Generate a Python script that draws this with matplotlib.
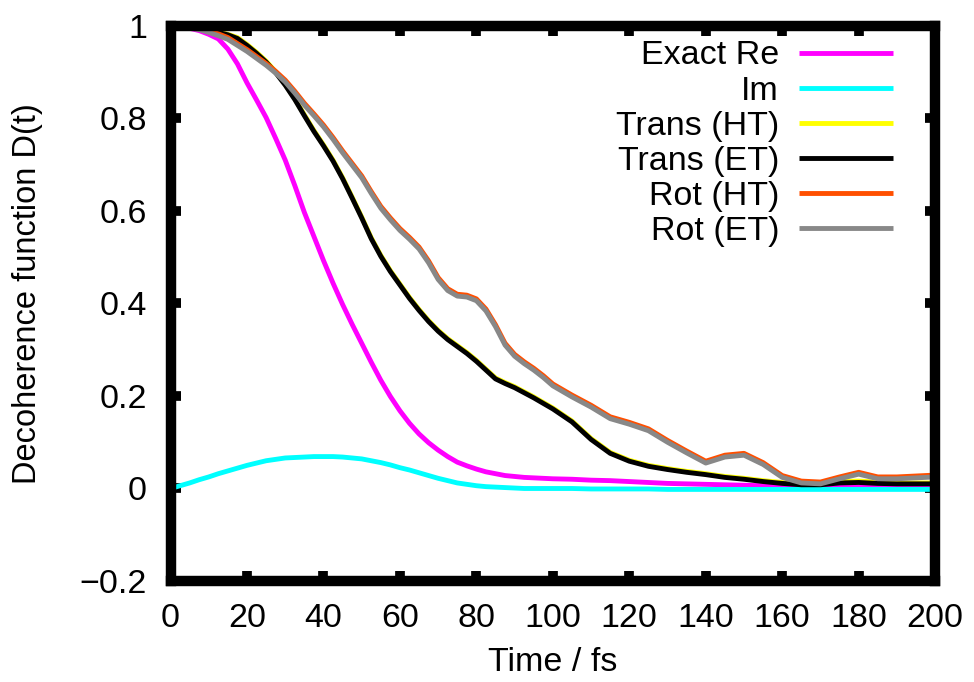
"""
Decoherence function D(t) for the exact result and the four
trajectory-based approximations (gnuplot-style figure).
"""

import matplotlib
matplotlib.use("Agg")
import matplotlib.pyplot as plt

plt.rcParams["font.family"] = ["Liberation Sans", "DejaVu Sans"]

# ── Data (2.5 fs up to 100 fs, 5 fs after) ────
time_fs = [i * 2.5 for i in range(41)] + list(range(105, 205, 5))

exact_re = [1.000, 0.999, 0.995, 0.990, 0.982, 0.972, 0.950, 0.918, 0.877, 0.840,
            0.802, 0.757, 0.710, 0.655, 0.597, 0.545, 0.493, 0.444, 0.398, 0.355,
            0.314, 0.273, 0.234, 0.199, 0.168, 0.141, 0.118, 0.099, 0.083, 0.069,
            0.057, 0.049, 0.042, 0.036, 0.032, 0.028, 0.026, 0.024, 0.023, 0.022,
            0.021,
            0.020, 0.018, 0.017, 0.015, 0.013, 0.011, 0.010, 0.009, 0.008, 0.007,
            0.006, 0.005, 0.004, 0.004, 0.003, 0.003, 0.003, 0.002, 0.002, 0.002]

exact_im = [0.000, 0.006, 0.012, 0.019, 0.025, 0.032, 0.038, 0.044, 0.050, 0.055,
            0.060, 0.063, 0.066, 0.067, 0.068, 0.069, 0.069, 0.069, 0.068, 0.066,
            0.064, 0.060, 0.056, 0.051, 0.045, 0.040, 0.034, 0.028, 0.022, 0.017,
            0.012, 0.009, 0.006, 0.004, 0.003, 0.002, 0.001, 0.000, 0.000, 0.000,
            0.000,
            0.000, -0.001, -0.001, -0.001, -0.001, -0.002, -0.002, -0.002, -0.002, -0.002,
            -0.002, -0.002, -0.002, -0.002, -0.002, -0.002, -0.002, -0.002, -0.002, -0.002]

trans_ht = [1.000, 1.000, 0.998, 0.996, 0.991, 0.987, 0.982, 0.975, 0.960, 0.943,
            0.924, 0.901, 0.874, 0.843, 0.808, 0.774, 0.743, 0.710, 0.672, 0.630,
            0.587, 0.542, 0.504, 0.471, 0.442, 0.413, 0.387, 0.363, 0.342, 0.324,
            0.309, 0.294, 0.277, 0.258, 0.239, 0.229, 0.220, 0.209, 0.198, 0.186,
            0.174,
            0.146, 0.108, 0.078, 0.061, 0.050, 0.043, 0.037, 0.032, 0.026, 0.022,
            0.017, 0.013, 0.010, 0.011, 0.015, 0.016, 0.014, 0.012, 0.012, 0.012]

trans_et = [1.000, 1.000, 0.998, 0.995, 0.990, 0.986, 0.981, 0.973, 0.958, 0.941,
            0.922, 0.899, 0.872, 0.841, 0.806, 0.772, 0.741, 0.708, 0.670, 0.628,
            0.585, 0.540, 0.502, 0.469, 0.440, 0.411, 0.385, 0.361, 0.340, 0.322,
            0.307, 0.292, 0.275, 0.256, 0.237, 0.227, 0.218, 0.207, 0.196, 0.184,
            0.172,
            0.144, 0.106, 0.076, 0.059, 0.048, 0.041, 0.035, 0.030, 0.024, 0.020,
            0.015, 0.011, 0.008, 0.008, 0.012, 0.013, 0.011, 0.010, 0.010, 0.010]

rot_ht = [1.000, 0.999, 0.997, 0.994, 0.989, 0.983, 0.975, 0.962, 0.949, 0.934,
          0.919, 0.902, 0.883, 0.859, 0.833, 0.810, 0.786, 0.759, 0.730, 0.703,
          0.676, 0.642, 0.610, 0.585, 0.562, 0.543, 0.522, 0.492, 0.456, 0.432,
          0.420, 0.418, 0.410, 0.388, 0.354, 0.314, 0.290, 0.274, 0.260, 0.244,
          0.226,
          0.202, 0.180, 0.155, 0.143, 0.129, 0.104, 0.081, 0.059, 0.072, 0.076,
          0.056, 0.028, 0.016, 0.014, 0.025, 0.035, 0.025, 0.025, 0.027, 0.029]

rot_et = [1.000, 0.999, 0.996, 0.992, 0.986, 0.979, 0.971, 0.958, 0.945, 0.930,
          0.915, 0.898, 0.879, 0.855, 0.829, 0.806, 0.782, 0.755, 0.726, 0.699,
          0.672, 0.638, 0.606, 0.581, 0.558, 0.539, 0.518, 0.488, 0.452, 0.428,
          0.416, 0.414, 0.406, 0.384, 0.350, 0.310, 0.286, 0.270, 0.256, 0.240,
          0.222,
          0.198, 0.176, 0.151, 0.139, 0.125, 0.100, 0.077, 0.055, 0.068, 0.072,
          0.052, 0.024, 0.012, 0.010, 0.021, 0.031, 0.021, 0.021, 0.023, 0.025]

series_labels = ["Exact Re", "Im", "Trans (HT)", "Trans (ET)", "Rot (HT)", "Rot (ET)"]
series_colors = ["#ff00ff", "#00ffff", "#ffff00", "#000000", "#ff4f00", "#888888"]

x_ticks = list(range(0, 220, 20))
y_ticks = [-0.2, 0.0, 0.2, 0.4, 0.6, 0.8, 1.0]
y_tick_labels = ["\u22120.2", "0", "0.2", "0.4", "0.6", "0.8", "1"]

# ── Figure ──────────────────────────────────────────────────────────
fig = plt.figure(figsize=(9.74, 6.82), dpi=100, facecolor="white")
ax = fig.add_axes([0.1751, 0.1481, 0.7850, 0.8138])

all_series = [exact_re, exact_im, trans_ht, trans_et, rot_ht, rot_et]
for values, label, color in zip(all_series, series_labels, series_colors):
    ax.plot(time_fs, values, color=color, lw=3.5, label=label,
            solid_joinstyle="round", solid_capstyle="butt")

ax.set_xlim(0, 200)
ax.set_ylim(-0.2, 1.0)
ax.set_xticks(x_ticks)
ax.set_yticks(y_ticks)
ax.set_yticklabels(y_tick_labels)

for spine in ax.spines.values():
    spine.set_linewidth(7.5)
    spine.set_color("black")

ax.tick_params(axis="both", which="major", direction="in", length=7, width=7,
               top=True, right=True, labelsize=24.5)
ax.tick_params(axis="x", pad=16)
ax.tick_params(axis="y", pad=17)

ax.set_xlabel("Time / fs", fontsize=24.5, labelpad=9)
ax.set_ylabel("Decoherence function D(t)", fontsize=23.5)
ax.yaxis.set_label_coords(-0.167, 0.517)

legend = ax.legend(
    loc="upper right",
    bbox_to_anchor=(893 / 974, 1 - 40.5 / 682),
    bbox_transform=fig.transFigure,
    frameon=False,
    markerfirst=False,
    fontsize=24.5,
    handlelength=2.75,
    handletextpad=0.6,
    labelspacing=0.12,
    borderpad=0,
    borderaxespad=0,
)

fig.savefig("out.png", dpi=100, facecolor="white")
